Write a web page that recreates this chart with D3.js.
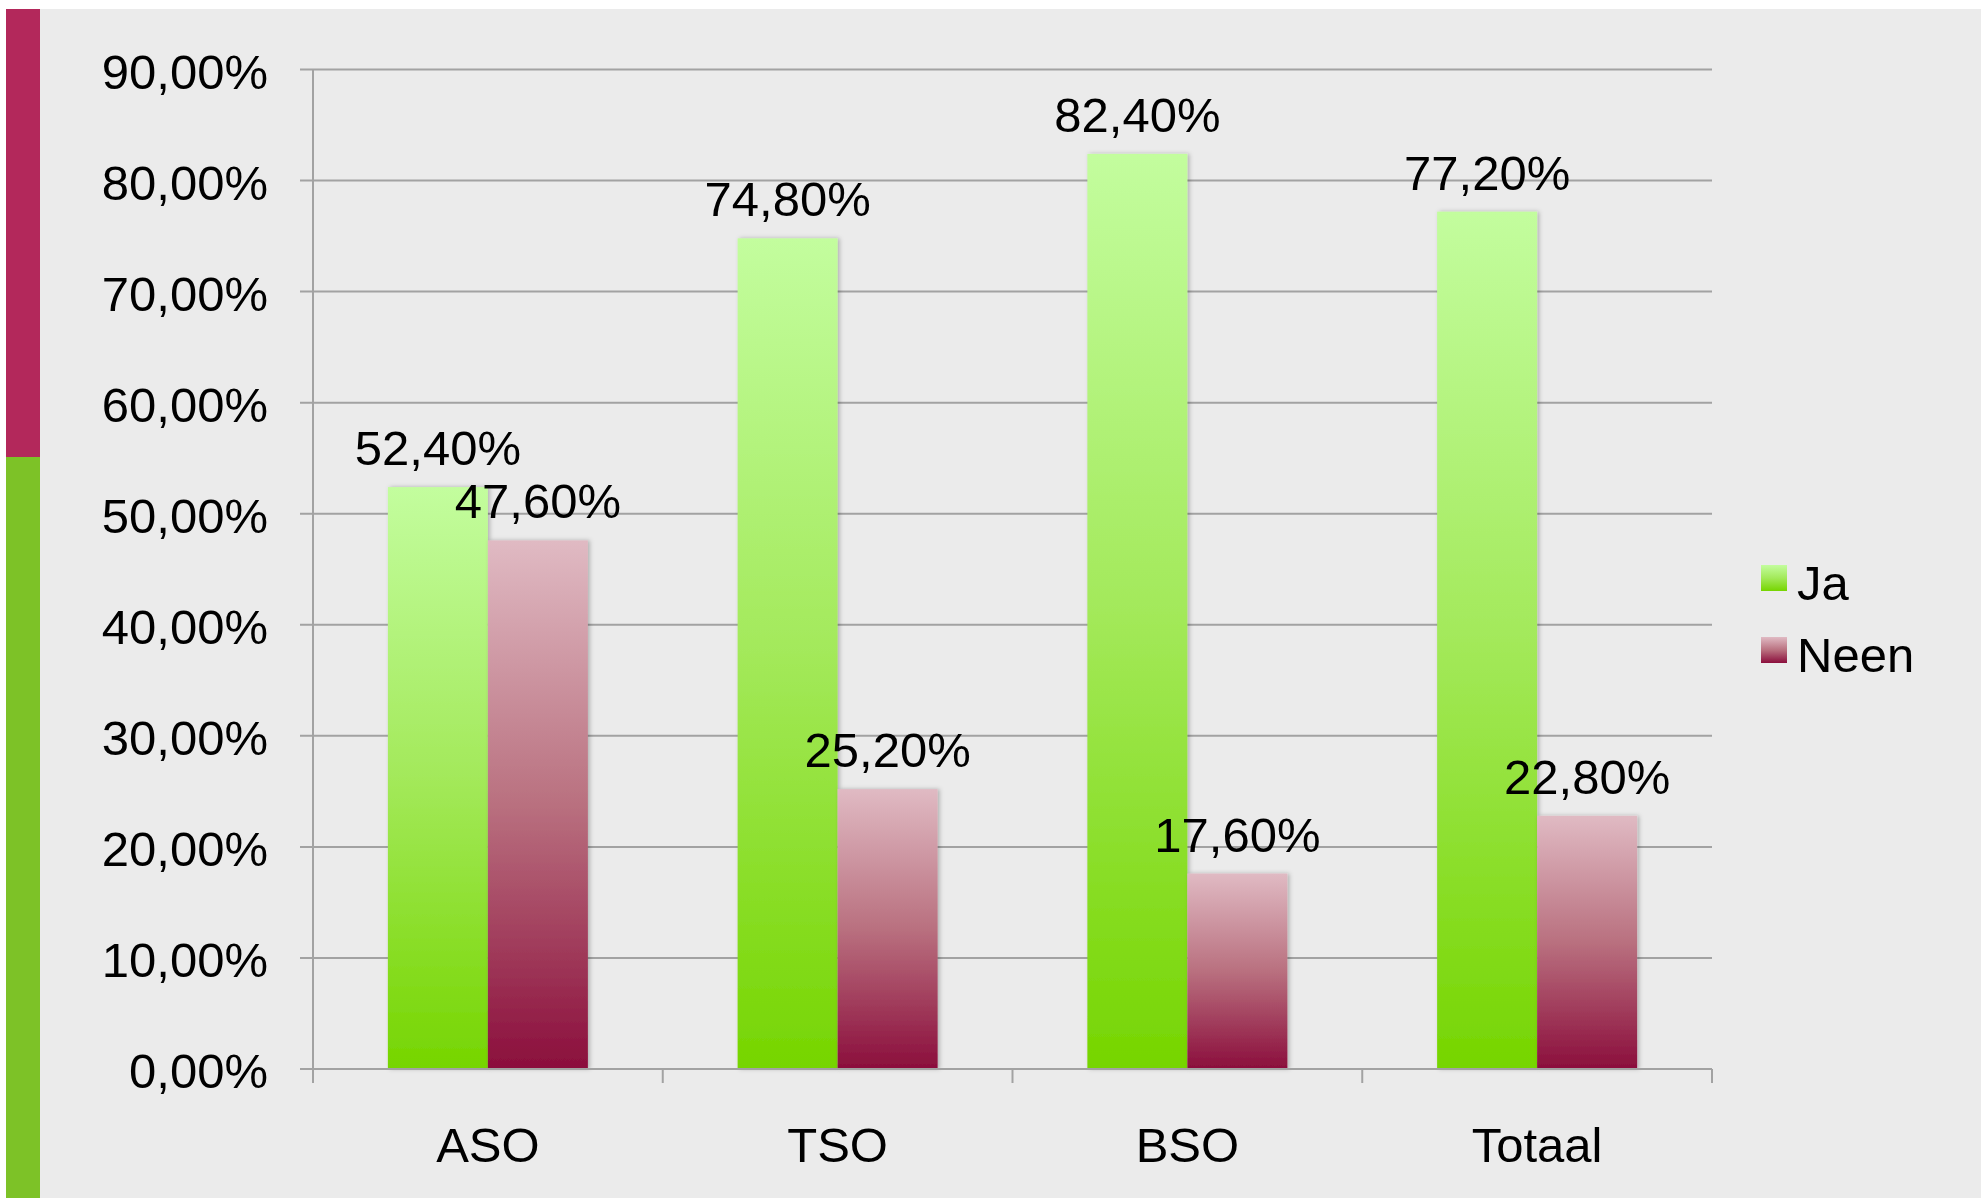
<!DOCTYPE html>
<html><head><meta charset="utf-8">
<script src="https://cdn.jsdelivr.net/npm/d3@7"></script>
<style>html,body{margin:0;padding:0;background:#fff;}svg{display:block;}</style>
</head><body>
<script>
const categories = ["ASO", "TSO", "BSO", "Totaal"];
const seriesNames = ["Ja", "Neen"];
const jaValues = [52.4, 74.8, 82.4, 77.2];
const neenValues = [47.6, 25.2, 17.6, 22.8];
const yTicks = [0, 10, 20, 30, 40, 50, 60, 70, 80, 90];

const W = 1981, H = 1198;
const fmt = v => v.toFixed(2).replace(".", ",") + "%";
const FONT = "'Liberation Sans', Arial, Helvetica, sans-serif";
const FS = 49;

const svg = d3.select("body").append("svg").attr("width", W).attr("height", H);
const defs = svg.append("defs");

function grad(id, top, mid, bot) {
  const g = defs.append("linearGradient").attr("id", id).attr("x1", 0).attr("y1", 0).attr("x2", 0).attr("y2", 1);
  g.append("stop").attr("offset", "0%").attr("stop-color", top);
  g.append("stop").attr("offset", "50%").attr("stop-color", mid);
  g.append("stop").attr("offset", "100%").attr("stop-color", bot);
}
grad("gJa", "#c3fd9e", "#a3e95a", "#76d500");
grad("gNeen", "#e0bac3", "#b9707f", "#8b0e3c");

const f = defs.append("filter").attr("id", "shadow").attr("x", "-10%").attr("y", "-5%").attr("width", "130%").attr("height", "110%");
f.append("feDropShadow").attr("dx", 2).attr("dy", 0).attr("stdDeviation", 2).attr("flood-color", "#000").attr("flood-opacity", 0.25);

// background
svg.append("rect").attr("x", 0).attr("y", 0).attr("width", W).attr("height", H).attr("fill", "#fff");
svg.append("rect").attr("x", 6).attr("y", 9).attr("width", W - 6).attr("height", H - 9).attr("fill", "#ebebeb");
svg.append("rect").attr("x", 6).attr("y", 9).attr("width", 34).attr("height", 448).attr("fill", "#b3285b");
svg.append("rect").attr("x", 6).attr("y", 457).attr("width", 34).attr("height", H - 457).attr("fill", "#7dc227");

const x0 = d3.scaleBand().domain(categories).range([313, 1712]).paddingInner(0).paddingOuter(0);
const y = d3.scaleLinear().domain([0, 90]).range([1069, 69.5]);
const bw = 100;
const x1 = d3.scaleBand().domain(seriesNames).range([(x0.bandwidth() - 2 * bw) / 2, (x0.bandwidth() + 2 * bw) / 2]);

// gridlines + y axis
const gy = svg.append("g");
gy.selectAll("line.grid").data(yTicks).join("line")
  .attr("x1", 300).attr("x2", 1712)
  .attr("y1", d => y(d)).attr("y2", d => y(d))
  .attr("stroke", "#a2a2a2").attr("stroke-width", 2);
gy.append("line").attr("x1", 313).attr("x2", 313).attr("y1", y(90)).attr("y2", y(0))
  .attr("stroke", "#a2a2a2").attr("stroke-width", 2);
gy.selectAll("text").data(yTicks).join("text")
  .attr("x", 268).attr("y", d => y(d) + 19)
  .attr("text-anchor", "end").attr("font-family", FONT).attr("font-size", FS).attr("fill", "#000")
  .text(d => fmt(d));

// x ticks
const xTickPos = categories.map(c => x0(c)).concat([x0.range()[1]]);
svg.selectAll("line.xt").data(xTickPos).join("line")
  .attr("x1", d => d).attr("x2", d => d).attr("y1", y(0)).attr("y2", y(0) + 14)
  .attr("stroke", "#a2a2a2").attr("stroke-width", 2);

// bars
const rows = categories.map((c, i) => ({ c, vals: [{ s: "Ja", v: jaValues[i] }, { s: "Neen", v: neenValues[i] }] }));
const groups = svg.selectAll("g.cat").data(rows).join("g").attr("transform", d => `translate(${x0(d.c)},0)`);
groups.selectAll("rect").data(d => d.vals).join("rect")
  .attr("x", d => x1(d.s)).attr("width", x1.bandwidth())
  .attr("y", d => y(d.v)).attr("height", d => y(0) - y(d.v))
  .attr("fill", d => d.s === "Ja" ? "url(#gJa)" : "url(#gNeen)")
  .attr("filter", "url(#shadow)");
groups.selectAll("text").data(d => d.vals).join("text")
  .attr("x", d => x1(d.s) + x1.bandwidth() / 2).attr("y", d => y(d.v) - 22)
  .attr("text-anchor", "middle").attr("font-family", FONT).attr("font-size", FS).attr("fill", "#000")
  .text(d => fmt(d.v));

// x axis baseline drawn over bars
svg.append("line").attr("x1", 300).attr("x2", 1712).attr("y1", y(0)).attr("y2", y(0))
  .attr("stroke", "#a2a2a2").attr("stroke-width", 2);

// category labels
svg.selectAll("text.cat").data(categories).join("text")
  .attr("x", d => x0(d) + x0.bandwidth() / 2).attr("y", 1162)
  .attr("text-anchor", "middle").attr("font-family", FONT).attr("font-size", FS).attr("fill", "#000")
  .text(d => d);

// legend
const legend = svg.append("g");
const legY = [565, 637];
seriesNames.forEach((s, i) => {
  legend.append("rect").attr("x", 1761).attr("y", legY[i]).attr("width", 26).attr("height", 26)
    .attr("fill", s === "Ja" ? "url(#gJa)" : "url(#gNeen)");
  legend.append("text").attr("x", 1797).attr("y", legY[i] + 35)
    .attr("font-family", FONT).attr("font-size", FS).attr("fill", "#000").text(s);
});
</script>
</body></html>
